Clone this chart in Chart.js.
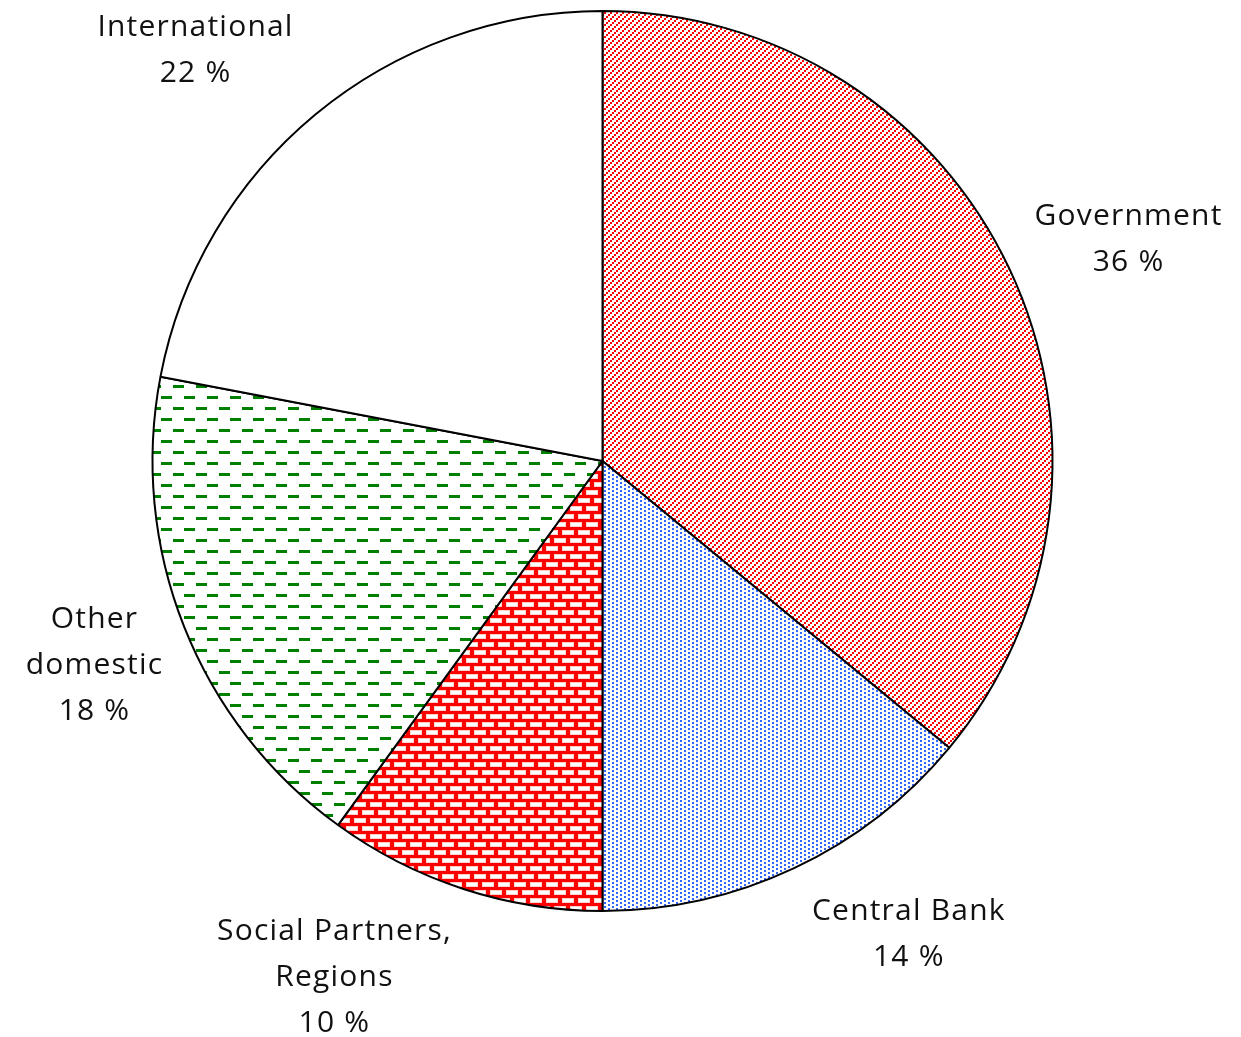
<!DOCTYPE html>
<html>
<head>
<meta charset="utf-8">
<script src="https://cdn.jsdelivr.net/npm/chart.js@4.4.1/dist/chart.umd.min.js"></script>
<style>
  html, body { margin: 0; padding: 0; background: #fff; }
  #wrap { width: 1241px; height: 1037px; position: relative; }
</style>
</head>
<body>
<div id="wrap"><canvas id="grafico"></canvas></div>
<script>
// --- DATOS ---
const categorias = ['Government', 'Central Bank', 'Social Partners, Regions', 'Other domestic', 'International'];
const valores = [36, 14, 10, 18, 22];
// etiquetas partidas en líneas tal como se escriben junto a la tarta
const lineasEtiqueta = [
  ['Government'],
  ['Central Bank'],
  ['Social Partners,', 'Regions'],
  ['Other', 'domestic'],
  ['International']
];

// posición de cada etiqueta: ángulo (grados desde arriba, horario) y distancia en radios
const POS_ETIQUETAS = [
  { ang: 67,    dist: 1.27 },
  { ang: 147,   dist: 1.25 },
  { ang: 207.5, dist: 1.29 },
  { ang: 248.3, dist: 1.215 },
  { ang: 315.4, dist: 1.288 }
];

// --- TRAMAS ---
function crearTrama(w, h, dibujar) {
  const c = document.createElement('canvas');
  c.width = w; c.height = h;
  const x = c.getContext('2d');
  x.fillStyle = '#fff';
  x.fillRect(0, 0, w, h);
  dibujar(x);
  return x.createPattern(c, 'repeat');
}

const ctx = document.getElementById('grafico').getContext('2d');

// diagonal roja punteada
const tramaGobierno = crearTrama(6, 6, x => {
  x.fillStyle = '#ff0000';
  x.fillRect(0, 4, 2, 2);
  x.fillRect(2, 2, 2, 2);
  x.fillRect(4, 0, 2, 2);
});

// puntos azules al tresbolillo
const tramaBanco = crearTrama(8, 4, x => {
  x.fillStyle = '#3366ff';
  x.fillRect(0, 0, 2, 2);
  x.fillRect(4, 2, 2, 2);
});

// ladrillos rojos
const tramaLadrillo = crearTrama(16, 16, x => {
  x.fillStyle = '#ff0000';
  x.fillRect(0, 0, 16, 16);
  x.fillStyle = '#ffd0d0';
  x.fillRect(2, 2, 12, 5);
  x.fillRect(10, 10, 12, 5);
  x.fillRect(-6, 10, 12, 5);
  x.fillStyle = '#fff';
  x.fillRect(3, 3, 10, 3);
  x.fillRect(11, 11, 10, 3);
  x.fillRect(-5, 11, 10, 3);
});

// guiones verdes
const tramaGuiones = crearTrama(23, 22, x => {
  x.fillStyle = '#008000';
  x.fillRect(0, 0, 11, 3);
  x.fillRect(12, 11, 11, 3);
  x.fillRect(-11, 11, 11, 3);
});

const colores = [tramaGobierno, tramaBanco, tramaLadrillo, tramaGuiones, '#ffffff'];

// --- PLUGIN DE ETIQUETAS ---
const etiquetasExternas = {
  id: 'etiquetasExternas',
  afterDraw(chart) {
    const arcos = chart.getDatasetMeta(0).data;
    if (!arcos.length) return;
    const { x: cx, y: cy, outerRadius: r } = arcos[0];
    const c = chart.ctx;
    c.save();
    c.font = '30px "Open Sans", sans-serif';
    c.letterSpacing = '1.2px';
    c.fillStyle = '#111';
    c.textAlign = 'center';
    c.textBaseline = 'middle';
    const alto = 46;
    arcos.forEach((arco, i) => {
      const p = POS_ETIQUETAS[i];
      const a = p.ang * Math.PI / 180;
      const px = cx + Math.sin(a) * r * p.dist;
      const py = cy - Math.cos(a) * r * p.dist + 2;
      const lineas = lineasEtiqueta[i].concat([valores[i] + ' %']);
      const y0 = py - (lineas.length - 1) * alto / 2;
      lineas.forEach((t, j) => c.fillText(t, px, y0 + j * alto));
    });
    c.restore();
  }
};

new Chart(ctx, {
  type: 'pie',
  data: {
    labels: categorias,
    datasets: [{
      data: valores,
      backgroundColor: colores,
      borderColor: '#000',
      borderWidth: 2
    }]
  },
  options: {
    responsive: true,
    maintainAspectRatio: false,
    animation: false,
    layout: { padding: { top: 10, bottom: 125, left: 0, right: 36 } },
    plugins: {
      legend: { display: false },
      tooltip: { enabled: false }
    }
  },
  plugins: [etiquetasExternas]
});
</script>
</body>
</html>
